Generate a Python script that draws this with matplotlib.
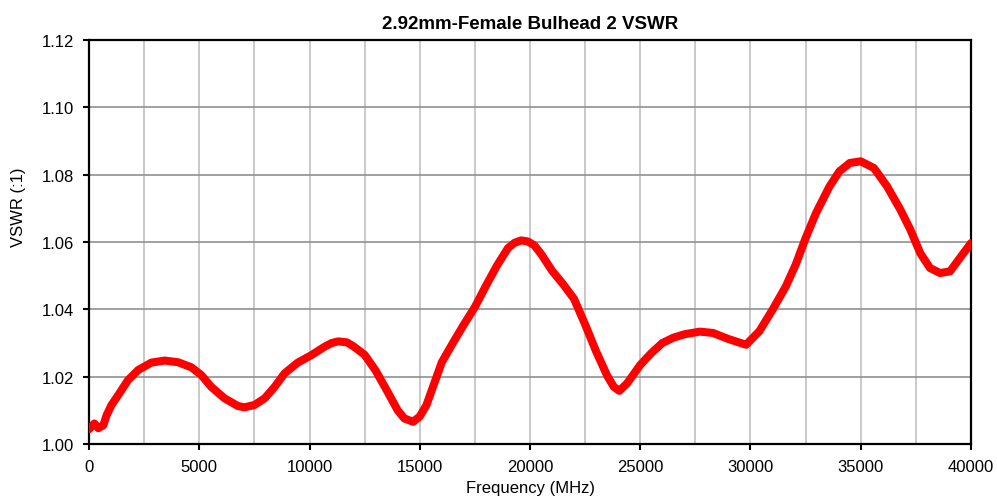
import matplotlib.pyplot as plt
from matplotlib.ticker import MultipleLocator

plt.rcParams['font.family'] = ['Liberation Sans', 'DejaVu Sans']

# frequency (MHz) and VSWR
freq = [0, 240, 420, 650, 800, 1020, 1330, 1770, 2230, 2830, 3430, 4040,
        4640, 5090, 5540, 6140, 6750, 7050, 7500, 7970, 8420, 8870, 9470,
        10080, 10680, 11000, 11300, 11700, 12000, 12500, 13000, 13500, 14000,
        14300, 14700, 15000, 15300, 15600, 16000, 16500, 17000, 17500, 18000,
        18500, 19000, 19300, 19600, 19900, 20200, 20500, 21000, 21500, 22000,
        22500, 23000, 23500, 23800, 24050, 24400, 25000, 25500, 26000, 26500,
        27000, 27700, 28300, 29000, 29800, 30400, 31000, 31600, 32050, 32500,
        32970, 33580, 34030, 34500, 35000, 35600, 36200, 36800, 37250, 37700,
        38140, 38600, 39050, 39500, 40000]
vswr = [1.0044, 1.0061, 1.0047, 1.0056, 1.0086, 1.0116, 1.0146, 1.0190,
        1.0220, 1.0242, 1.0248, 1.0243, 1.0228, 1.0205, 1.0170, 1.0136,
        1.0113, 1.0109, 1.0116, 1.0136, 1.0170, 1.0210, 1.0242, 1.0264,
        1.0289, 1.0300, 1.0305, 1.0302, 1.0290, 1.0265, 1.0218, 1.0160,
        1.0100, 1.0076, 1.0066, 1.0082, 1.0115, 1.0170, 1.0243, 1.0300,
        1.0355, 1.0407, 1.0470, 1.0530, 1.0582, 1.0598, 1.0605, 1.0602,
        1.0590, 1.0565, 1.0515, 1.0475, 1.0431, 1.0355, 1.0275, 1.0203,
        1.0170, 1.0158, 1.0180, 1.0235, 1.0270, 1.0300, 1.0316, 1.0326,
        1.0334, 1.0330, 1.0312, 1.0295, 1.0335, 1.0399, 1.0468, 1.0533,
        1.0612, 1.0686, 1.0765, 1.0810, 1.0835, 1.0840, 1.0820, 1.0765,
        1.0696, 1.0637, 1.0567, 1.0523, 1.0508, 1.0513, 1.0553, 1.0597]

fig = plt.figure(figsize=(9.97, 5.02), dpi=100)
ax = fig.add_axes([0.0893, 0.1135, 0.8846, 0.8045])

ax.plot(freq, vswr, color='#ff0000', linewidth=5.8, solid_capstyle='round',
        solid_joinstyle='round', zorder=3)

ax.set_xlim(0, 40000)
ax.set_ylim(1.00, 1.12)
ax.xaxis.set_major_locator(MultipleLocator(5000))
ax.xaxis.set_minor_locator(MultipleLocator(2500))
ax.yaxis.set_major_locator(MultipleLocator(0.02))
ax.yaxis.set_major_formatter(lambda v, p: f"{v:.2f}")

ax.grid(which='major', axis='y', color='#909090', linewidth=1.2)
ax.grid(which='both', axis='x', color='#c0c0c0', linewidth=1.2)
ax.set_axisbelow(True)

for s in ax.spines.values():
    s.set_color('black')
    s.set_linewidth(1.6)

ax.tick_params(which='major', direction='out', length=4, width=1.5,
               labelsize=12, colors='black', pad=7)
ax.tick_params(which='minor', length=0)

ax.set_title("2.92mm-Female Bulhead 2 VSWR", fontsize=13.5, fontweight='bold', pad=9)
ax.set_xlabel("Frequency (MHz)", fontsize=12, labelpad=4)
fig.text(18 / 997, (502 - 207) / 502, "VSWR (:1)", fontsize=12,
         rotation=90, ha='center', va='center')

fig.savefig("out.png", dpi=100)
